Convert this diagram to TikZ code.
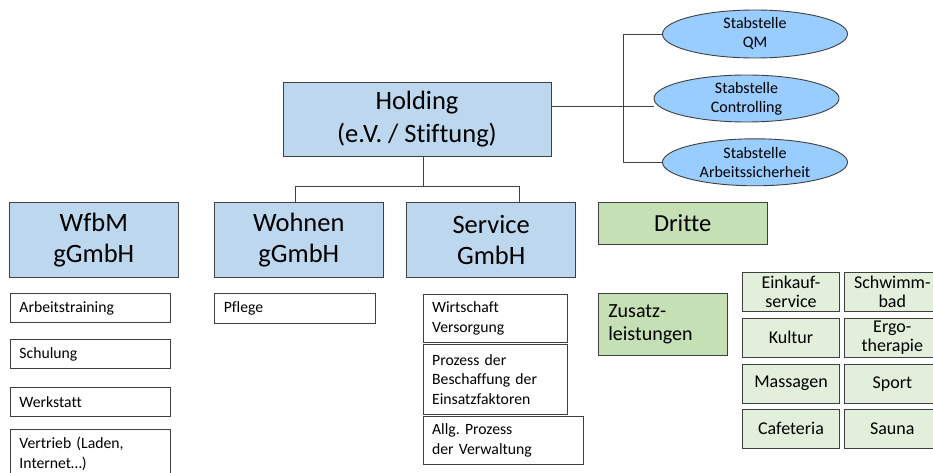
\documentclass[tikz,border=0pt]{standalone}
\usepackage{fontspec}
\setmainfont{Carlito}[Ligatures=NoCommon]
\usetikzlibrary{shapes.geometric}
\definecolor{unitblue}{HTML}{BDD7EE}
\definecolor{staffblue}{HTML}{99CCFF}
\definecolor{thirdgreen}{HTML}{C5E0B4}
\definecolor{cellgreen}{HTML}{E2EFDA}
\definecolor{edge}{HTML}{404040}
\frenchspacing
\tikzset{
  orgbox/.style={draw=edge, line width=0.9pt, inner sep=0pt, align=center},
  unit/.style={orgbox, fill=unitblue, minimum width=169pt, minimum height=75pt,
    font=\fontsize{26.5}{31}\selectfont},
  staff/.style={orgbox, ellipse, fill=staffblue, minimum width=185pt, minimum height=47pt,
    font=\fontsize{16}{19}\selectfont},
  taskbox/.style={draw=edge, line width=0.9pt, fill=white, anchor=north west, align=left,
    inner xsep=9pt, inner ysep=0pt, font=\fontsize{15.7}{19.5}\selectfont},
  extra/.style={orgbox, fill=cellgreen, minimum width=96.6pt, minimum height=39.5pt,
    font=\fontsize{18}{19.5}\selectfont},
  link/.style={draw=edge, line width=0.9pt}
}
\begin{document}
\begin{tikzpicture}[x=1pt, y=-1pt]
\useasboundingbox (0,0) rectangle (933,473);
\clip (0,0) rectangle (933,473);

% holding and staff units
\node[unit, minimum width=268pt, minimum height=74pt, font=\fontsize{26.5}{33}\selectfont] (hold) at (417,119) {Holding\\(e.V. / Stiftung)};
\node[staff, minimum height=48pt] (qm) at (755,34) {Stabstelle\\QM};
\node[staff] (ctrl) at (746.5,98.5) {Stabstelle\\Controlling};
\node[staff] (safe) at (755,162.3) {Stabstelle\\Arbeitssicherheit};

% subsidiaries
\node[unit] (wfbm) at (93.8,239.8) {WfbM\\gGmbH};
\node[unit] (wohnen) at (298.8,239.8) {Wohnen\\gGmbH};
\node[unit] (service) at (491.2,240.2) {Service\\GmbH};
\node[orgbox, fill=thirdgreen, minimum width=168.7pt, minimum height=42pt,
  font=\fontsize{24.5}{30}\selectfont] (dritte) at (682.7,223.3) {Dritte};
\node[orgbox, fill=thirdgreen, minimum width=128.7pt, minimum height=62.4pt, align=left,
  text width=108.7pt, inner xsep=10pt, font=\fontsize{20}{23}\selectfont] (zusatz) at (662.7,324.5) {Zusatz-\\leistungen};

% WfbM tasks
\node[taskbox, minimum width=160pt, minimum height=29pt, text width=142pt] (arbeit) at (10,293.3) {Arbeitstraining};
\node[taskbox, minimum width=160pt, minimum height=29.3pt, text width=142pt] (schulung) at (10,339) {Schulung};
\node[taskbox, minimum width=160pt, minimum height=29pt, text width=142pt] (werk) at (10,386.7) {Werkstatt};
\node[taskbox, minimum width=160pt, minimum height=48pt, text width=142pt] (vertrieb) at (10,429.3) {Vertrieb (Laden,\\Internet…)};

% Wohnen tasks
\node[taskbox, minimum width=160.7pt, minimum height=30pt, text width=142.7pt] (pflege) at (214.3,293.3) {Pflege};

% Service tasks
\node[taskbox, minimum width=144.6pt, minimum height=47.7pt, text width=126.6pt] (wirt) at (422.7,294) {Wirtschaft\\Versorgung};
\node[taskbox, minimum width=144.6pt, minimum height=70pt, text width=126.6pt] (proz) at (422.7,344) {Prozess der\\Beschaffung der\\Einsatzfaktoren};
\node[taskbox, minimum width=160pt, minimum height=48.6pt, text width=142pt] (allg) at (422.7,415.7) {Allg. Prozess\\der Verwaltung};

% additional services
\node[extra] (einkauf) at (791,292) {Einkauf-\\service};
\node[extra] (schwimm) at (892.3,292) {Schwimm-\\bad};
\node[extra] (kultur) at (791,337.7) {Kultur};
\node[extra] (ergo) at (892.3,337.7) {Ergo-\\therapie};
\node[extra] (massage) at (791,383.7) {Massagen};
\node[extra] (sport) at (892.3,383.7) {Sport};
\node[extra] (cafe) at (791,428.7) {Cafeteria};
\node[extra] (sauna) at (892.3,428.7) {Sauna};

% connectors
\coordinate (drop) at (423,186);
\coordinate (barL) at (295,186);
\coordinate (barR) at (519,186);
\draw[link] (hold.south -| drop) -- (drop);
\draw[link] (wohnen.north -| barL) -- (barL) -- (barR) -- (service.north -| barR);

\coordinate (tmid) at (623,106.5);
\coordinate (ttop) at (623,34);
\coordinate (tbot) at (623,162.3);
\draw[link] (hold.east |- tmid) -- (tmid) -- (ctrl.west |- tmid);
\draw[link] (qm.west) -- (ttop) -- (tbot) -- (safe.west);
\end{tikzpicture}
\end{document}
